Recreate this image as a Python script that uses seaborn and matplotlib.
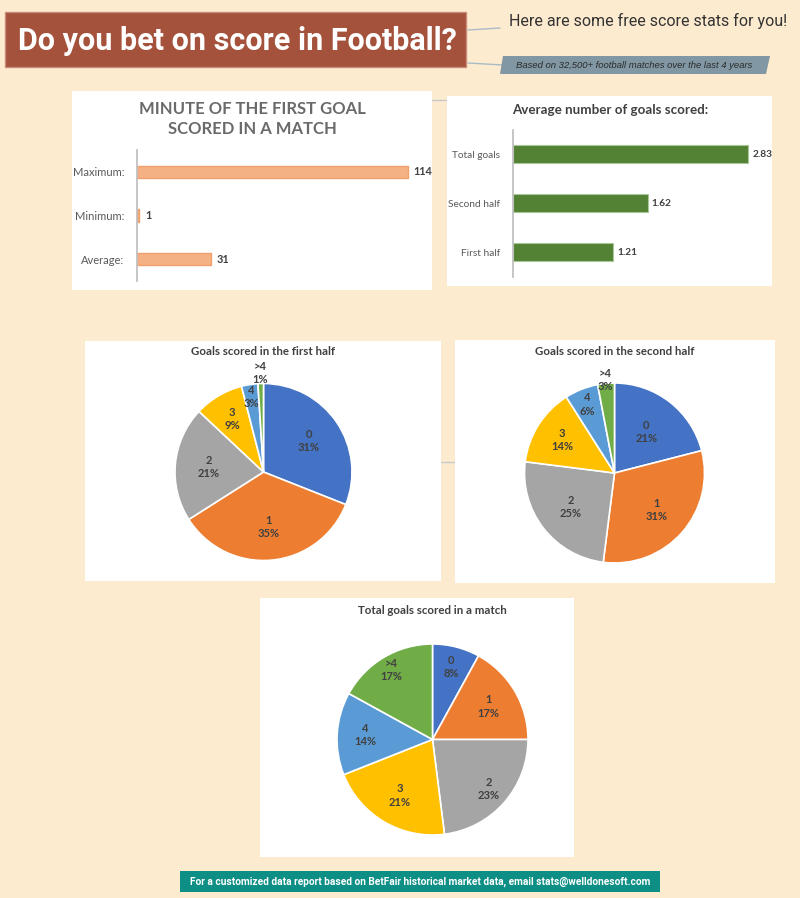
# Football score stats infographic

import numpy as np
import pandas as pd
import matplotlib
matplotlib.use("Agg")
import matplotlib.pyplot as plt
import seaborn as sns
from matplotlib.patches import Rectangle, Polygon
from matplotlib.lines import Line2D

# data
first_goal_labels = ["Maximum:", "Minimum:", "Average:"]
first_goal_minutes = [114, 1, 31]

avg_goal_labels = ["Total goals", "Second half", "First half"]
avg_goals = [2.83, 1.62, 1.21]

goal_cats = ["0", "1", "2", "3", "4", ">4"]
first_half_pct = [31, 35, 21, 9, 3, 1]
second_half_pct = [21, 31, 25, 14, 6, 3]
total_pct = [8, 17, 23, 21, 14, 17]

sns.set_theme(style="white")
plt.rcParams["font.family"] = ["Lato", "DejaVu Sans"]
HEAD = ["Roboto", "DejaVu Sans"]

W, H = 800, 898
BG = "#fdebd0"
fig = plt.figure(figsize=(W / 100, H / 100), dpi=100, facecolor=BG)


def fx(x):
    return x / W


def fy(y):
    return 1 - y / H


def px_axes(x0, y0, x1, y1):
    ax = fig.add_axes([fx(x0), fy(y1), (x1 - x0) / W, (y1 - y0) / H])
    ax.set_facecolor("none")
    return ax


def panel(x0, y0, x1, y1):
    fig.patches.append(Rectangle((fx(x0), fy(y1)), (x1 - x0) / W, (y1 - y0) / H,
                                 transform=fig.transFigure, facecolor="white",
                                 edgecolor="none", zorder=-1))


def line(x0, y0, x1, y1, color="#a9bcc6"):
    fig.lines.append(Line2D([fx(x0), fx(x1)], [fy(y0), fy(y1)], transform=fig.transFigure,
                            color=color, linewidth=1, zorder=-2))


# header
fig.patches.append(Rectangle((fx(5), fy(67)), 461 / W, 55 / H, transform=fig.transFigure,
                             facecolor="#a5523c", edgecolor="#c98a78", linewidth=1, zorder=1))
fig.text(fx(237), fy(41), "Do you bet on score in Football?", color="white", fontsize=22,
         fontweight="bold", family=HEAD, ha="center", va="center")
line(468, 30, 500, 28)
line(468, 63, 503, 65)
fig.text(fx(509), fy(21), "Here are some free score stats for you!", color="#333333",
         fontsize=11.5, family=HEAD, ha="left", va="center")
fig.patches.append(Polygon([(fx(503), fy(56)), (fx(770), fy(56)), (fx(766), fy(74)), (fx(500), fy(74))],
                           closed=True, transform=fig.transFigure, facecolor="#8197a3",
                           edgecolor="none", zorder=1))
fig.text(fx(634), fy(65), "Based on 32,500+ football matches over the last 4 years",
         color="#2b2b2b", fontsize=6.8, style="italic", family=["Liberation Sans", "DejaVu Sans"],
         ha="center", va="center")

# connector lines between panels
line(432, 100, 447, 100, "#c8c8c8")
line(441, 462, 455, 462, "#c8c8c8")

# panel 1: minute of first goal
panel(72, 91, 432, 290)
fig.text(fx(252), fy(109), "MINUTE OF THE FIRST GOAL", color="#6a6a6a",
         fontsize=12, fontweight="bold", ha="center", va="center")
fig.text(fx(252), fy(129), "SCORED IN A MATCH", color="#6a6a6a",
         fontsize=12, fontweight="bold", ha="center", va="center")
ax1 = px_axes(137, 150, 420, 281)
df1 = pd.DataFrame({"label": first_goal_labels, "minute": first_goal_minutes})
sns.barplot(data=df1, x="minute", y="label", ax=ax1, color="#f4b183", saturation=1,
            width=0.28, edgecolor="#f0a06c", linewidth=1)
ax1.set_xlim(0, 114 * (420 - 137) / (408 - 137))
ax1.set_ylim(2.5, -0.5)
ax1.bar_label(ax1.containers[0], padding=4, fontsize=7.8, fontweight="bold", color="#404040")

# panel 2: average goals
panel(447, 96, 772, 286)
fig.text(fx(610), fy(110), "Average number of goals scored:", color="#404040",
         fontsize=9.6, fontweight="bold", ha="center", va="center")
ax2 = px_axes(513, 129.5, 760, 276.5)
df2 = pd.DataFrame({"label": avg_goal_labels, "goals": avg_goals})
sns.barplot(data=df2, x="goals", y="label", ax=ax2, color="#548235", saturation=1,
            width=0.35, edgecolor="#a9c897", linewidth=0.8)
ax2.set_xlim(0, 2.83 * (760 - 513) / (748 - 513))
ax2.set_ylim(2.5, -0.5)
ax2.bar_label(ax2.containers[0], fmt="%.2f", padding=3, fontsize=7.3, fontweight="bold", color="#404040")

for ax, fs in [(ax1, 8), (ax2, 7.3)]:
    ax.set_xlabel("")
    ax.set_ylabel("")
    ax.set_xticks([])
    for s in ["top", "right", "bottom"]:
        ax.spines[s].set_visible(False)
    ax.spines["left"].set_color("#bfbfbf")
    ax.tick_params(axis="y", length=0, pad=9, labelsize=fs, labelcolor="#595959")

# pies
pie_colors = sns.color_palette(["#4472c4", "#ed7d31", "#a5a5a5", "#ffc000", "#5b9bd5", "#70ad47"])


def pie(cx, cy, r, values, fracs, title, tx, ty):
    s = r * 1.3
    ax = px_axes(cx - s, cy - s, cx + s, cy + s)
    wedges, _ = ax.pie(values, colors=pie_colors, startangle=90, counterclock=False,
                       wedgeprops=dict(edgecolor="white", linewidth=1.2))
    ax.set_xlim(-1.3, 1.3)
    ax.set_ylim(-1.3, 1.3)
    for w, cat, v, f in zip(wedges, goal_cats, values, fracs):
        ang = np.deg2rad((w.theta1 + w.theta2) / 2)
        ax.text(f * np.cos(ang), f * np.sin(ang), f"{cat}\n{v}%", ha="center", va="center",
                fontsize=8, fontweight="bold", color="#404040", linespacing=1.25)
    fig.text(fx(tx), fy(ty), title, color="#404040", fontsize=8.3, fontweight="bold",
             ha="center", va="center")


panel(85, 341, 441, 581)
pie(263.5, 472, 88.5, first_half_pct, [0.62, 0.62, 0.62, 0.7, 0.86, 1.12],
    "Goals scored in the first half", 263, 352)
panel(455, 340, 775, 583)
pie(614.5, 473, 90, second_half_pct, [0.58, 0.62, 0.62, 0.69, 0.82, 1.04],
    "Goals scored in the second half", 615, 352)
panel(260, 598, 574, 857)
pie(432.5, 739.5, 95.5, total_pct, [0.78, 0.68, 0.78, 0.68, 0.71, 0.85],
    "Total goals scored in a match", 432, 611)

# footer
fig.patches.append(Rectangle((fx(180), fy(892)), 480 / W, 21 / H, transform=fig.transFigure,
                             facecolor="#0e8f86", edgecolor="none", zorder=1))
fig.text(fx(420), fy(881.5),
         "For a customized data report based on BetFair historical market data, email stats@welldonesoft.com",
         color="white", fontsize=7.3, fontweight="bold", family=HEAD, ha="center", va="center")

fig.savefig("out.png", dpi=100, facecolor=BG)
